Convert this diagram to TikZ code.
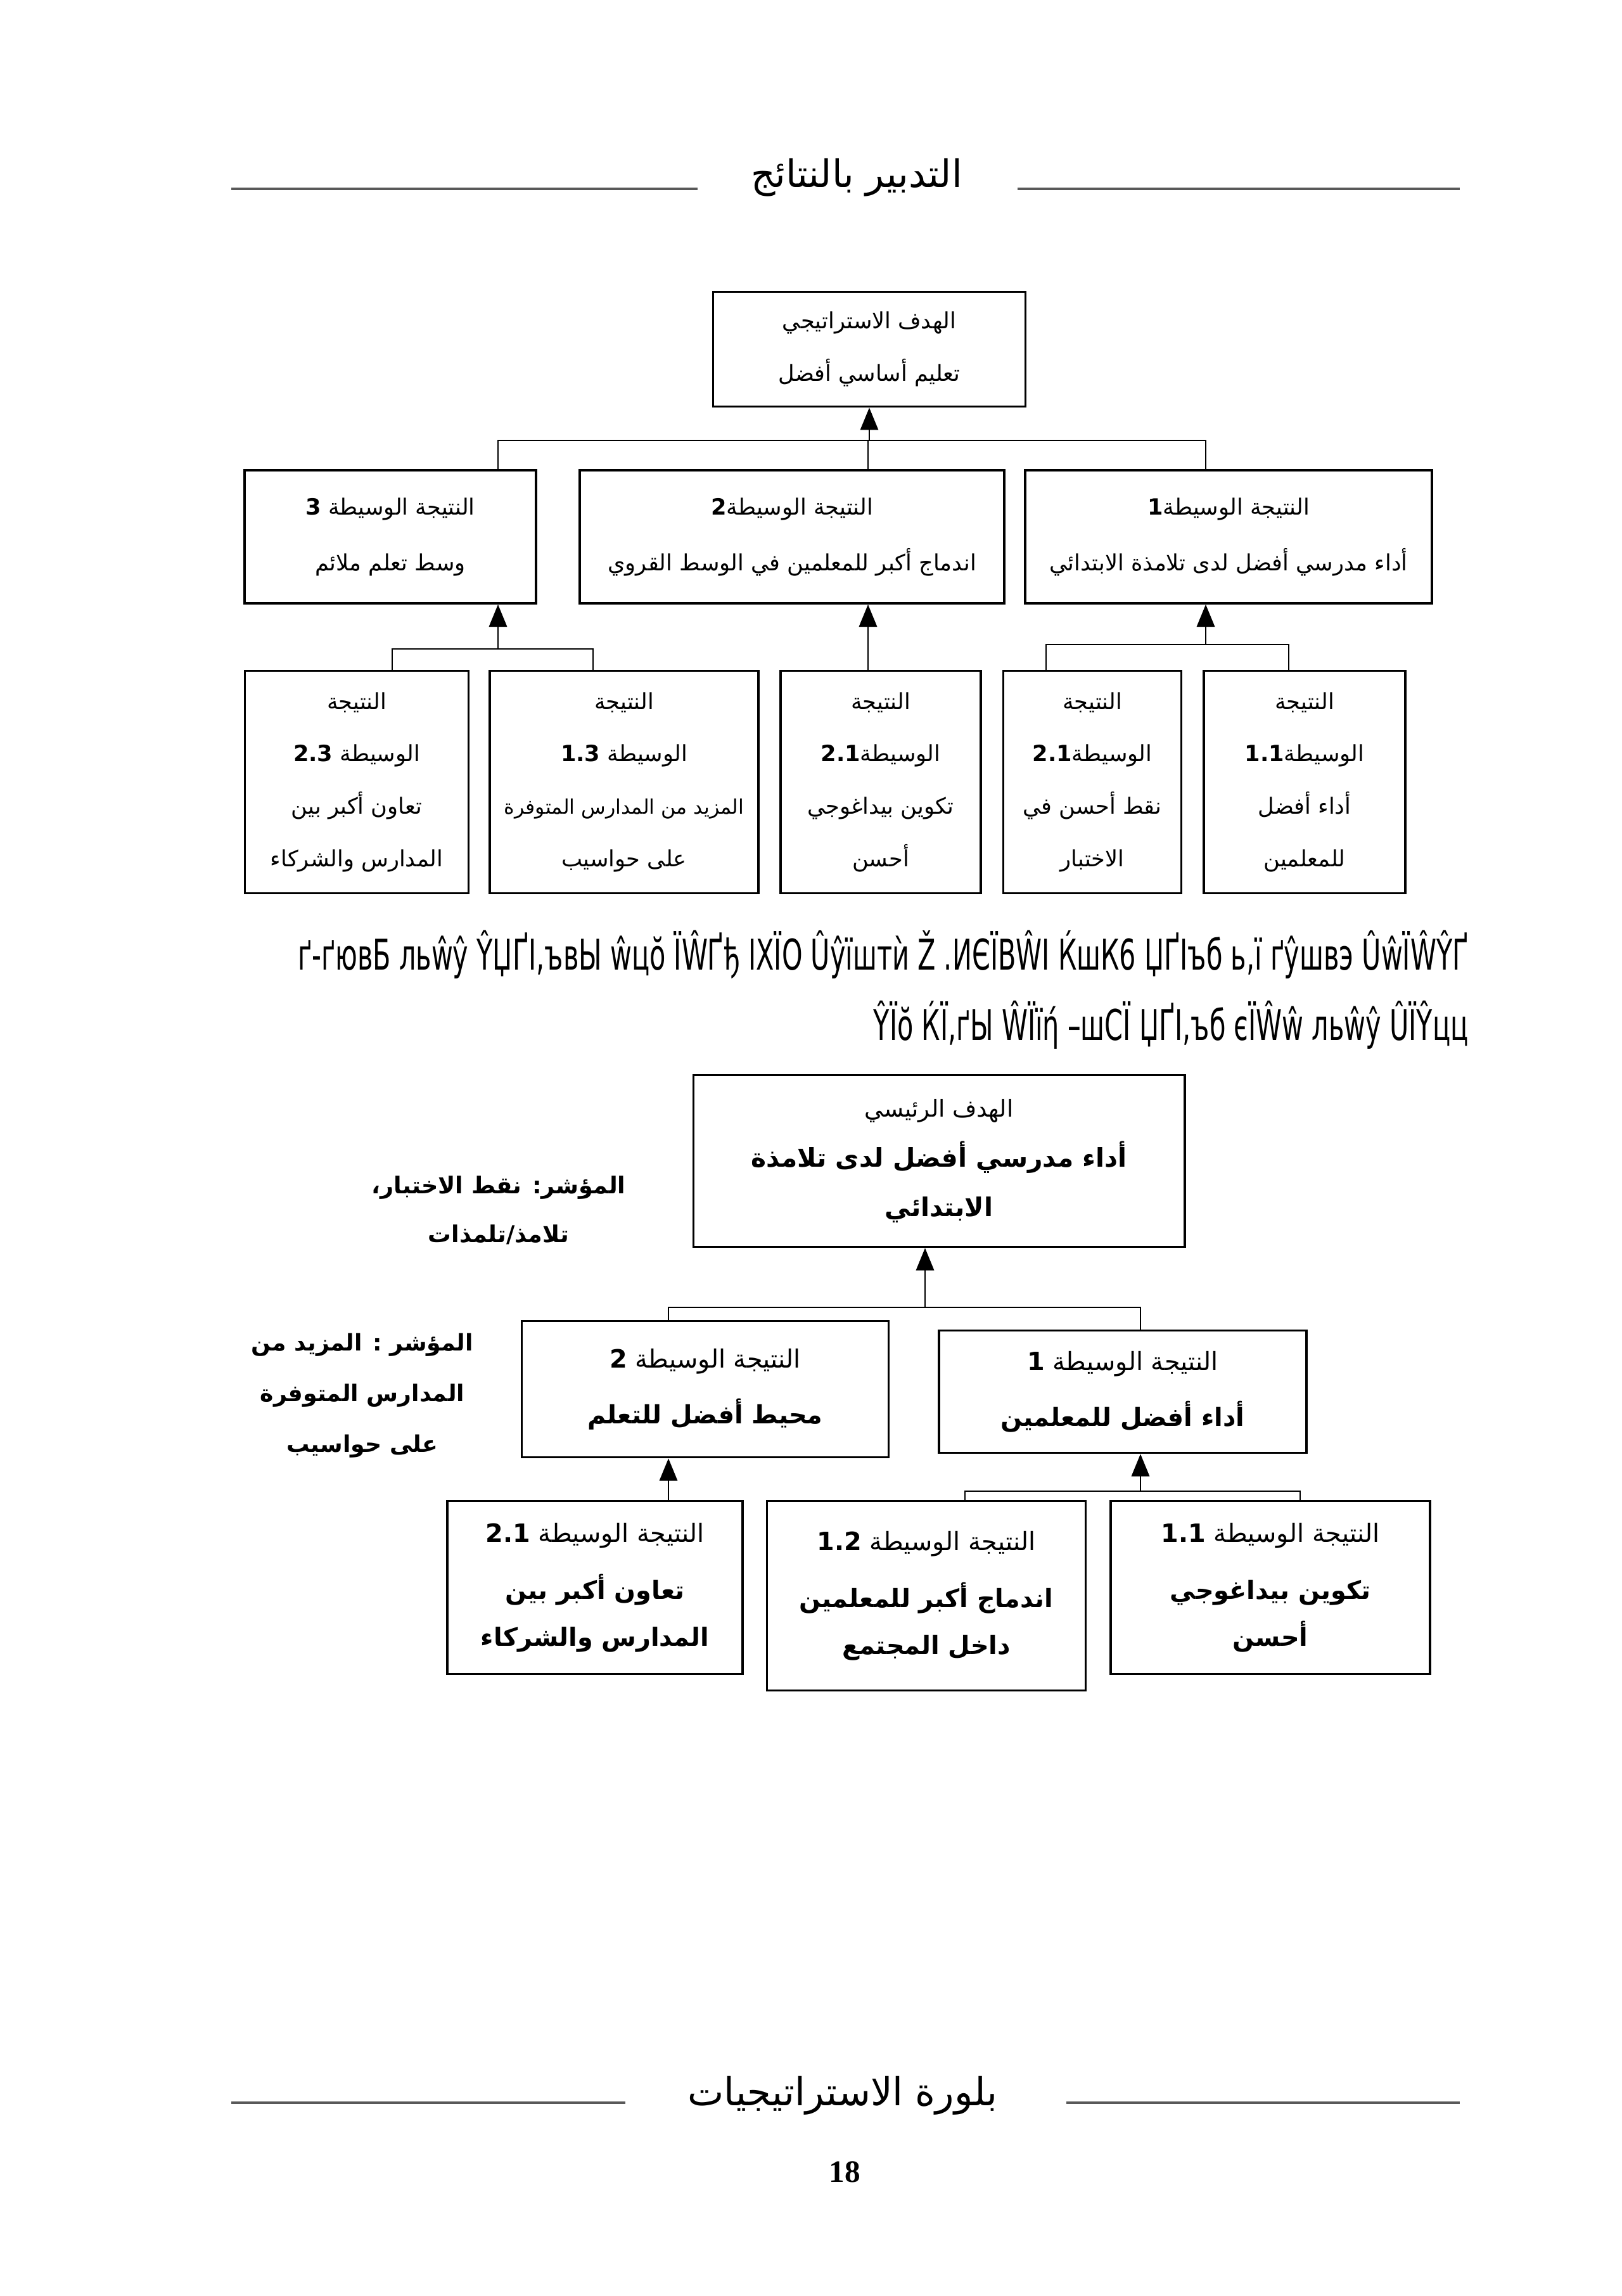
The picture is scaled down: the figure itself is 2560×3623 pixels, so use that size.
\documentclass[tikz,border=0pt]{standalone}
\usepackage{fontspec}
\setmainfont{Liberation Serif}
\newfontfamily\arabicfont[Script=Arabic]{DejaVu Sans}
\newfontfamily\garbfont[FakeStretch=0.62]{DejaVu Sans}
\TeXXeTstate=1
\usetikzlibrary{arrows.meta, positioning}
\newcommand{\artext}[1]{\beginR #1\endR}
\newcommand{\rnum}[1]{\beginL\textbf{#1}\endL{}}

\begin{document}
\begin{tikzpicture}[
  x=0.01cm, y=-0.01cm,
  box/.style={draw, line width=1pt, inner sep=0pt, align=center},
  topfont/.style={font=\arabicfont\fontsize{10}{23.5}\selectfont},
  lowfont/.style={font=\arabicfont\fontsize{11.3}{21}\selectfont},
  conn/.style={line width=0.8pt},
  arr/.style={line width=0.8pt, -{Triangle[length=10pt,width=8pt]}},
  rule/.style={line width=1.2pt, black!65}
]
\useasboundingbox (0,0) rectangle (2560,3623);

% page head and foot
\node[font=\arabicfont\fontsize{17}{20}\selectfont] (hdr) at (1352,280) {\artext{التدبير بالنتائج}};
\draw[rule] (365,298) -- (1101,298);
\draw[rule] (1606,298) -- (2304,298);
\node[font=\arabicfont\fontsize{17.3}{20}\selectfont] (ftr) at (1330,3307) {\artext{بلورة الاستراتيجيات}};
\draw[rule] (365,3318) -- (987,3318);
\draw[rule] (1683,3318) -- (2304,3318);
\node[font=\bfseries\fontsize{14}{16}\selectfont] (pg) at (1333,3427) {18};

% first tree
\node[box, topfont, minimum width=4.93cm, minimum height=1.81cm] (goalA) at (1372,551)
  {\artext{الهدف الاستراتيجي}\\ \artext{تعليم أساسي أفضل}};
\node[box, minimum width=4.60cm, minimum height=2.10cm, font=\arabicfont\fontsize{10}{25}\selectfont] (itm3) at (616,847)
  {\artext{النتيجة الوسيطة \rnum{3}}\\ \artext{وسط تعلم ملائم}};
\node[box, minimum width=6.70cm, minimum height=2.10cm, font=\arabicfont\fontsize{10}{25}\selectfont] (itm2) at (1250,847)
  {\artext{النتيجة الوسيطة\rnum{2}}\\ \artext{اندماج أكبر للمعلمين في الوسط القروي}};
\node[box, minimum width=6.42cm, minimum height=2.10cm, font=\arabicfont\fontsize{10}{25}\selectfont] (itm1) at (1939,847)
  {\artext{النتيجة الوسيطة\rnum{1}}\\ \artext{أداء مدرسي أفضل لدى تلامذة الابتدائي}};

\node[box, topfont, minimum width=3.53cm, minimum height=3.51cm] (res23) at (563,1234)
  {\artext{النتيجة}\\ \artext{الوسيطة \rnum{2.3}}\\ \artext{تعاون أكبر بين}\\ \artext{المدارس والشركاء}};
\node[box, topfont, minimum width=4.24cm, minimum height=3.51cm] (res13) at (985,1234)
  {\artext{النتيجة}\\ \artext{الوسيطة \rnum{1.3}}\\ {\fontsize{9}{23.5}\selectfont\artext{المزيد من المدارس المتوفرة}}\\ \artext{على حواسيب}};
\node[box, topfont, minimum width=3.16cm, minimum height=3.51cm] (res21b) at (1390,1234)
  {\artext{النتيجة}\\ \artext{الوسيطة\rnum{2.1}}\\ \artext{تكوين بيداغوجي}\\ \artext{أحسن}};
\node[box, topfont, minimum width=2.81cm, minimum height=3.51cm] (res21) at (1724,1234)
  {\artext{النتيجة}\\ \artext{الوسيطة\rnum{2.1}}\\ \artext{نقط أحسن في}\\ \artext{الاختبار}};
\node[box, topfont, minimum width=3.18cm, minimum height=3.51cm] (res11) at (2059,1234)
  {\artext{النتيجة}\\ \artext{الوسيطة\rnum{1.1}}\\ \artext{أداء أفضل}\\ \artext{للمعلمين}};

\coordinate (ta) at (786,695);
\coordinate (tb) at (1370,695);
\coordinate (tc) at (1903,695);
\draw[conn] (ta|-itm3.north) -- (ta) -- (tc) -- (tc|-itm1.north);
\draw[conn] (tb) -- (tb|-itm2.north);
\draw[arr] (goalA.south|-ta) -- (goalA.south);

\coordinate (ua) at (619,1024);
\coordinate (ub) at (936,1024);
\draw[conn] (ua|-res23.north) -- (ua) -- (ub) -- (ub|-res13.north);
\draw[arr] (ta|-ua) -- (ta|-itm3.south);
\draw[arr] (tb|-res21b.north) -- (tb|-itm2.south);
\coordinate (ud) at (1651,1017);
\coordinate (ue) at (2034,1017);
\draw[conn] (ud|-res21.north) -- (ud) -- (ue) -- (ue|-res11.north);
\draw[arr] (tc|-ud) -- (tc|-itm1.south);

% scrambled caption
\node[anchor=east, align=right, font=\garbfont\fontsize{19}{31.6}\selectfont] (garb) at (2330,1562)
  {ґ-ґювБ льŵŷ ŶЏҐІ,ъвЫ ŵцŏ ЇŴҐђ ІХЇО Ûŷїштѝ Ž .ИЄЇВŴІ ЌшК6 ЏҐІъб ь,ї ґŷшвэ ÛŵЇŴŶҐ\\
   ŶЇŏ ЌЇ,ґЫ ŴЇїή –шСЇ ЏҐІ,ъб єЇŴŵ льŵŷ ÛЇŶцц};

% second tree
\node[box, minimum width=7.75cm, minimum height=2.71cm, font=\arabicfont\fontsize{10.5}{22.3}\selectfont] (goalB) at (1482,1832)
  {\artext{الهدف الرئيسي}\\ \artext{\bfseries\fontsize{11.6}{22.3}\selectfont أداء مدرسي أفضل لدى تلامذة}\\ \artext{\bfseries\fontsize{11.6}{22.3}\selectfont الابتدائي}};
\node[box, minimum width=5.79cm, minimum height=2.15cm, font=\arabicfont\fontsize{11.3}{25}\selectfont] (btm2) at (1113,2192)
  {\artext{النتيجة الوسيطة \rnum{2}}\\ \artext{\bfseries محيط أفضل للتعلم}};
\node[box, minimum width=5.80cm, minimum height=1.93cm, font=\arabicfont\fontsize{11.3}{25}\selectfont] (btm1) at (1772,2196)
  {\artext{النتيجة الوسيطة \rnum{1}}\\ \artext{\bfseries أداء أفضل للمعلمين}};

\node[box, lowfont, minimum width=4.66cm, minimum height=2.73cm] (bres21) at (939,2505)
  {\artext{النتيجة الوسيطة \rnum{2.1}}\\[4.6pt] \artext{\bfseries تعاون أكبر بين}\\ \artext{\bfseries المدارس والشركاء}};
\node[box, lowfont, minimum width=5.03cm, minimum height=2.99cm] (bres12) at (1462,2518)
  {\artext{النتيجة الوسيطة \rnum{1.2}}\\[4.6pt] \artext{\bfseries اندماج أكبر للمعلمين}\\ \artext{\bfseries داخل المجتمع}};
\node[box, lowfont, minimum width=5.04cm, minimum height=2.73cm] (bres11) at (2005,2505)
  {\artext{النتيجة الوسيطة \rnum{1.1}}\\[4.6pt] \artext{\bfseries تكوين بيداغوجي}\\ \artext{\bfseries أحسن}};

\node[align=center, font=\arabicfont\bfseries\fontsize{10.4}{21.8}\selectfont] (ind1) at (787,1910)
  {\artext{المؤشر: نقط الاختبار،}\\ \artext{تلامذ/تلمذات}};
\node[align=center, font=\arabicfont\bfseries\fontsize{10.3}{22.7}\selectfont] (ind2) at (572,2202)
  {\artext{المؤشر : المزيد من}\\ \artext{المدارس المتوفرة}\\ \artext{على حواسيب}};

\coordinate (va) at (1055,2063);
\coordinate (vg) at (1460,2063);
\coordinate (vb) at (1800,2063);
\draw[conn] (va|-btm2.north) -- (va) -- (vb) -- (vb|-btm1.north);
\draw[arr] (vg) -- (vg|-goalB.south);
\draw[arr] (va|-bres21.north) -- (va|-btm2.south);
\coordinate (wa) at (1523,2353);
\coordinate (wb) at (2052,2353);
\draw[conn] (wa|-bres12.north) -- (wa) -- (wb) -- (wb|-bres11.north);
\draw[arr] (vb|-wa) -- (vb|-btm1.south);
\end{tikzpicture}
\end{document}
